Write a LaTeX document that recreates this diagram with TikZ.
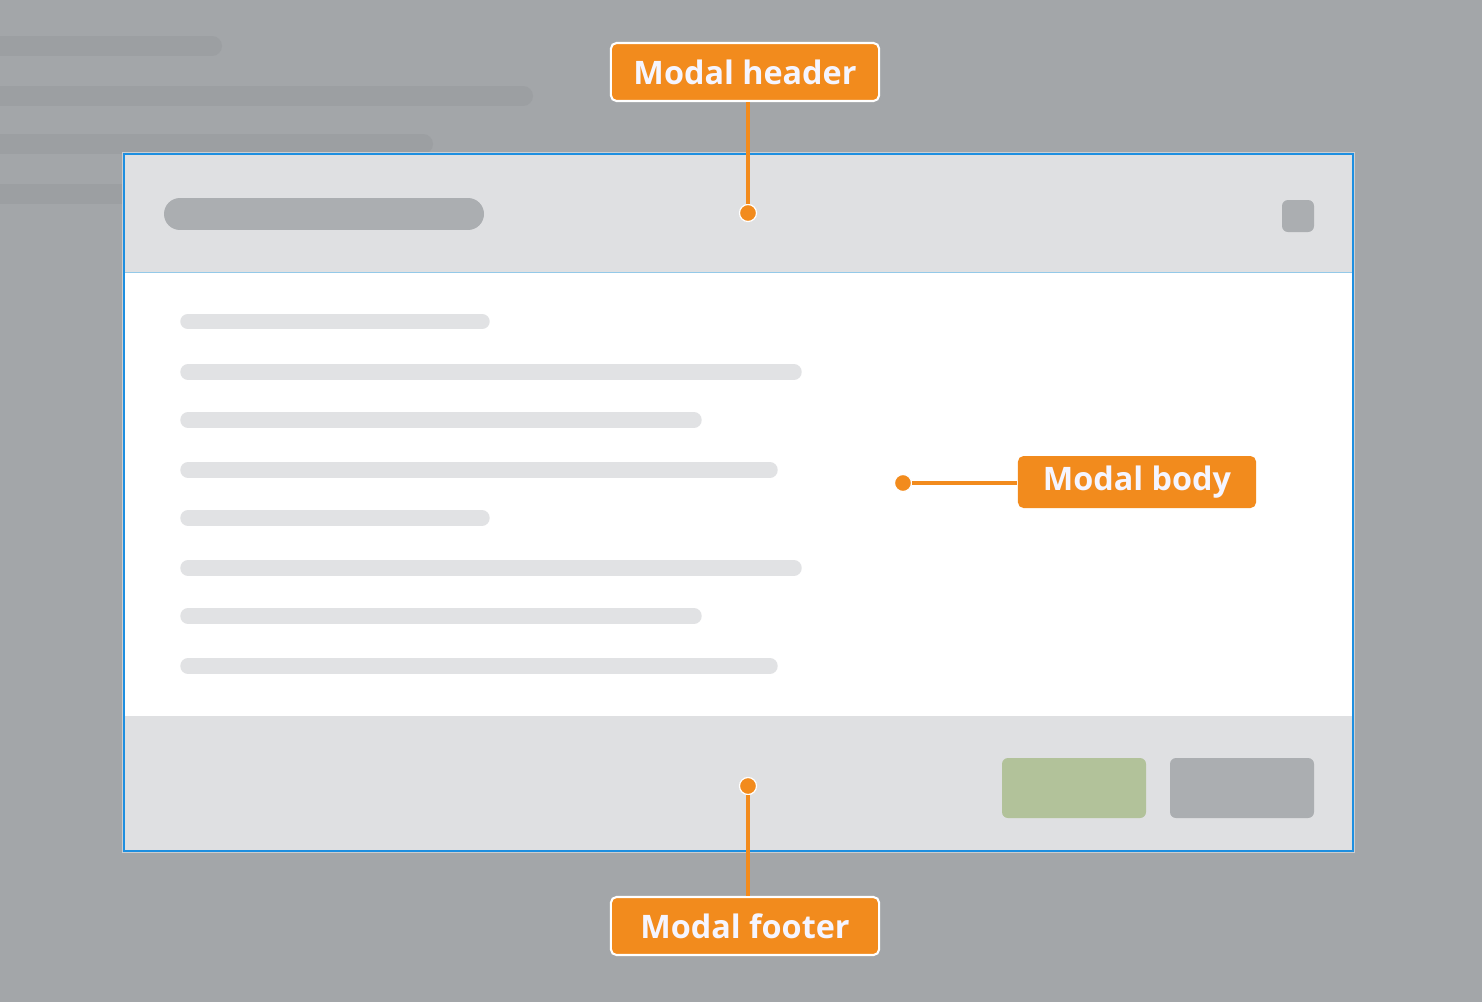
\documentclass[tikz,border=0pt]{standalone}
\usepackage{fontspec}
\usepackage{tikz}
\usetikzlibrary{calc, positioning}
\newfontfamily\calloutfont{Open Sans}
\definecolor{pagegrey}{HTML}{A3A6A9}
\definecolor{ghostgrey}{HTML}{9C9FA2}
\definecolor{panelgrey}{HTML}{DFE0E2}
\definecolor{pillgrey}{HTML}{ABAEB1}
\definecolor{textgrey}{HTML}{E1E2E4}
\definecolor{okgreen}{HTML}{B2C29A}
\definecolor{calloutorange}{HTML}{F28B1D}
\definecolor{modalblue}{HTML}{1E8FE0}
\definecolor{sepblue}{HTML}{94C9E8}
\tikzset{
	callout/.style={fill=calloutorange, draw=white, line width=0.6pt, rounded corners=1.6pt,
		minimum width=2.68cm, minimum height=0.58cm, inner sep=0pt,
		text=white!96!blue, font=\calloutfont\bfseries\fontsize{9.2}{10}\selectfont},
	pin/.style={circle, fill=calloutorange, draw=white, line width=0.35pt, minimum size=0.17cm, inner sep=0pt},
	link/.style={calloutorange, line width=1.1pt},
	ghost/.style={ghostgrey, line width=5.7pt, line cap=round},
	textline/.style={textgrey, line width=4.4pt, line cap=round}
}
\begin{document}
\begin{tikzpicture}[x=0.01cm, y=-0.01cm]
		\fill[pagegrey] (0,0) rectangle (1482,1002);
		\useasboundingbox (0,0) rectangle (1482,1002);
		% page behind the modal
		\draw[ghost] (-20,46) -- (212,46);
		\draw[ghost] (-20,96) -- (523,96);
		\draw[ghost] (-20,144) -- (423,144);
		\draw[ghost] (-20,194) -- (300,194);
		% modal
		\fill[panelgrey] (125,155) rectangle (1352,272);
		\fill[white] (125,272) rectangle (1352,716);
		\fill[panelgrey] (125,716) rectangle (1352,850);
		\draw[sepblue, line width=0.55pt] (125,272.5) -- (1352,272.5);
		\draw[pagegrey!55!white, line width=0.25pt] (122.3,152.3) rectangle (1354.7,852.7);
		\draw[modalblue, line width=0.75pt] (124,154) rectangle (1353,851);
		% header
		\draw[pillgrey, line width=9.1pt, line cap=round] (180,214) -- (468,214);
		\fill[pillgrey, rounded corners=1.7pt] (1282,200) rectangle (1314,232);
		% body text
		\draw[textline] (188,321.5) -- (482,321.5);
		\draw[textline] (188,372) -- (794,372);
		\draw[textline] (188,420) -- (694,420);
		\draw[textline] (188,470) -- (770,470);
		\draw[textline] (188,518) -- (482,518);
		\draw[textline] (188,568) -- (794,568);
		\draw[textline] (188,616) -- (694,616);
		\draw[textline] (188,666) -- (770,666);
		% footer buttons
		\fill[okgreen, rounded corners=1.7pt] (1002,758) rectangle (1146,818);
		\fill[pillgrey, rounded corners=1.7pt] (1170,758) rectangle (1314,818);
		% callouts
		\node[callout] (headlabel) at (745,72) {Modal header};
		\node[callout, draw=none, minimum width=2.38cm, minimum height=0.52cm] (bodylabel) at (1137,482) {Modal body};
		\node[callout] (footlabel) at (745,926) {Modal footer};
		\node[pin] (headpin) at (748,213) {};
		\node[pin] (bodypin) at (903,483) {};
		\node[pin] (footpin) at (748,786) {};
		\draw[link] (headpin) -- (headpin |- headlabel.south);
		\draw[link] (bodypin) -- (bodypin -| bodylabel.west);
		\draw[link] (footpin) -- (footpin |- footlabel.north);
	\end{tikzpicture}
\end{document}
